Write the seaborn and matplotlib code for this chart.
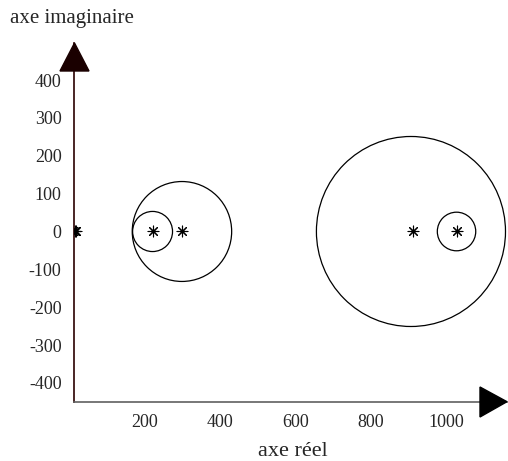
import numpy as np
import pandas as pd
import matplotlib
matplotlib.use("Agg")
import matplotlib.pyplot as plt
from matplotlib.patches import Circle, Polygon
import seaborn as sns

# Data
eig_re = [6, 10, 14, 18, 222, 298, 912, 1028]
eig_im = [0, 0, 0, 0, 0, 0, 0, 0]
circle_centers = [220, 298, 906, 1027]
circle_radii = [53, 132, 251, 51]
x_ticks = [200, 400, 600, 800, 1000]
y_ticks = [-400, -300, -200, -100, 0, 100, 200, 300, 400]

sns.set_style("white")
plt.rcParams["font.family"] = ["Liberation Serif", "DejaVu Serif"]

W, H = 508, 461
fig = plt.figure(figsize=(W / 100, H / 100), dpi=100)
ax_l, ax_r, ax_t, ax_b = 74, 507, 43, 401.7
ax = fig.add_axes([ax_l / W, 1 - ax_b / H, (ax_r - ax_l) / W, (ax_b - ax_t) / H])

df = pd.DataFrame({"re": eig_re, "im": eig_im})
sns.scatterplot(data=df, x="re", y="im", marker=(8, 2, 0), s=60,
                color="black", linewidth=0.8, edgecolor="black", ax=ax, zorder=3)

for c, r in zip(circle_centers, circle_radii):
    ax.add_patch(Circle((c, 0), r, fill=False, edgecolor="black", linewidth=0.9))

ax.set_xlim(11.4, 1161)
ax.set_ylim(-449.7, 498)
ax.set_xticks(x_ticks)
ax.set_yticks(y_ticks)
ax.set_xticklabels([str(v) for v in x_ticks], fontsize=13)
ax.set_yticklabels([str(v) for v in y_ticks], fontsize=13)
ax.tick_params(direction="in", length=4, width=1, color="#555555", pad=9)
ax.set_xlabel("")
ax.set_ylabel("")
for s in ["top", "right"]:
    ax.spines[s].set_visible(False)
ax.spines["left"].set_color("#2a0000")
ax.spines["bottom"].set_color("#606060")
ax.spines["left"].set_linewidth(1.2)
ax.spines["bottom"].set_linewidth(1.2)

def px(x, y):
    return (x / W, 1 - y / H)

# arrows
fig.patches.append(Polygon([px(60, 71), px(89, 71), px(74.5, 43)], closed=True,
                           facecolor="#1a0000", edgecolor="#1a0000",
                           transform=fig.transFigure, figure=fig))
fig.patches.append(Polygon([px(480, 387), px(480, 417), px(507, 401.7)], closed=True,
                           facecolor="black", edgecolor="black",
                           transform=fig.transFigure, figure=fig))

fig.text(10 / W, 1 - 23 / H, "axe imaginaire", fontsize=15, ha="left", va="baseline")
fig.text(293 / W, 1 - 456 / H, "axe réel", fontsize=16, ha="center", va="baseline")

fig.savefig("out.png", dpi=100, facecolor="white")
